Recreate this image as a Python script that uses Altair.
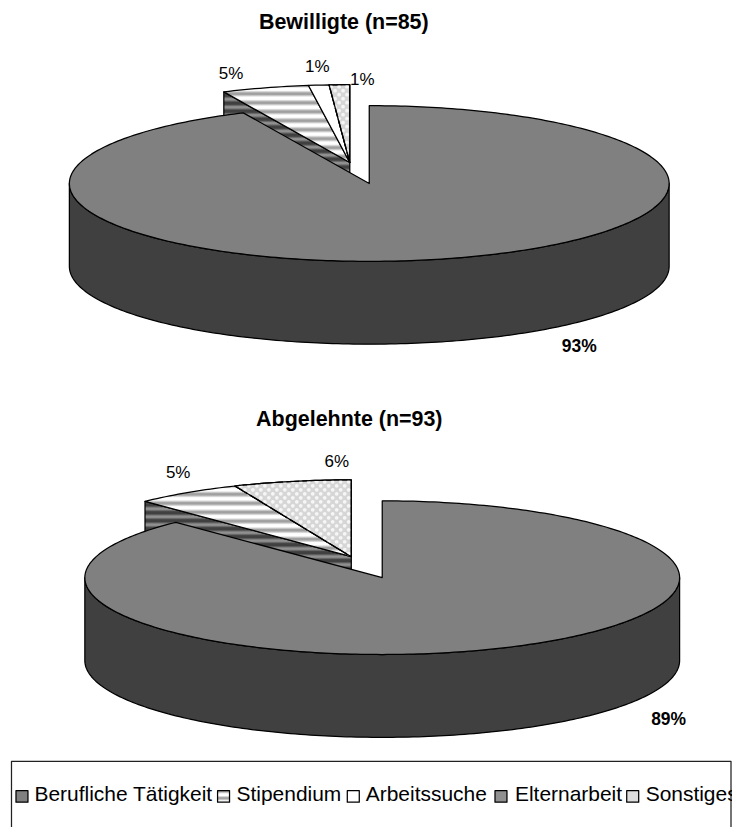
import math
import altair as alt
import pandas as pd

# ---- values (shares in percent, clockwise from 12 o'clock)
categories = ["Berufliche Tätigkeit", "Stipendium", "Arbeitssuche", "Elternarbeit", "Sonstiges"]
shares_top = [93.1, 4.7, 1.1, 0.0, 1.1]
shares_bottom = [87.8, 5.8, 0.0, 0.0, 6.4]

title_texts = ["Bewilligte (n=85)", "Abgelehnte (n=93)"]
label_top = ["93%", "5%", "1%", "1%"]
label_bottom = ["89%", "5%", "6%"]

# ---- layout
X0, X1, Y0, Y1 = 8, 733.5, 8, 827
xs = alt.Scale(domain=[X0, X1], range=[0, X1 - X0])
ys = alt.Scale(domain=[Y0, Y1], range=[0, Y1 - Y0])
GREY, DARK = "#808080", "#404040"
LW = 1.25


def soft_stripes(y0, y1, a, b, mid, period=9.0, phase=0.0):
    stops = []
    n = int((y1 - y0) / period) + 2
    span = y1 - y0
    last = -1.0
    for k in range(-1, n):
        s = y0 + phase + k * period
        for frac, col in [(0.0, a), (0.15, mid), (0.3, b), (0.55, b), (0.7, mid), (0.85, a)]:
            off = (s + frac * period - y0) / span
            if 0 <= off <= 1 and off > last:
                stops.append(alt.GradientStop(offset=off, color=col))
                last = off
    return alt.LinearGradient(gradient="linear", x1=0, y1=0, x2=0, y2=1, stops=stops)


def poly(pts, fill=None, stroke="black", width=LW):
    df = pd.DataFrame({"x": [p[0] for p in pts], "y": [p[1] for p in pts], "i": range(len(pts))})
    kw = dict(interpolate="linear-closed", stroke=stroke, strokeWidth=width, strokeJoin="round", clip=False)
    kw["fill"] = fill if fill is not None else "transparent"
    return alt.Chart(df).mark_line(**kw).encode(
        x=alt.X("x:Q", scale=xs, axis=None),
        y=alt.Y("y:Q", scale=ys, axis=None),
        order="i:Q",
    )


def bbox_stripes(pts, a, b, mid, **kw):
    ysv = [p[1] for p in pts]
    return soft_stripes(min(ysv), max(ysv), a, b, mid, **kw)


def inside(p, pts):
    x, y = p
    c = False
    for i in range(len(pts)):
        x1, y1 = pts[i]
        x2, y2 = pts[(i + 1) % len(pts)]
        if (y1 > y) != (y2 > y) and x < (x2 - x1) * (y - y1) / (y2 - y1) + x1:
            c = not c
    return c


def dots(pts, step=8.0):
    xv = [p[0] for p in pts]
    yv = [p[1] for p in pts]
    out = []
    j = 0
    y = min(yv) + 2
    while y < max(yv):
        x = min(xv) + 2 + (j % 2) * step / 2
        while x < max(xv):
            if inside((x, y), pts):
                out.append((x, y))
            x += step
        y += step / 2
        j += 1
    df = pd.DataFrame(out, columns=["x", "y"])
    return alt.Chart(df).mark_point(filled=True, shape="circle", size=14, color="#f6f6f6", opacity=1).encode(
        x=alt.X("x:Q", scale=xs, axis=None), y=alt.Y("y:Q", scale=ys, axis=None)
    )


def pie(shares, c, e, rx, ry, depth):
    cx, cy = c
    ex, ey = e
    P = lambda t, ox, oy, dy=0: (ox + rx * math.sin(math.radians(t)), oy - ry * math.cos(math.radians(t)) + dy)
    arc = lambda a, b, ox, oy, dy=0: [P(a + (b - a) * i / max(2, int(abs(b - a))), ox, oy, dy) for i in range(max(2, int(abs(b - a))) + 1)]
    layers = []
    end_main = shares[0] * 3.6
    # cut face of the pulled-out slices (Elternarbeit shading)
    wall = [P(end_main, ex, ey), (ex, ey), (ex, ey + depth), P(end_main, ex, ey, depth)]
    layers.append(poly(wall, bbox_stripes(wall, "#909090", DARK, "#686868", period=8.0)))
    # pulled-out slices
    a = end_main
    for i, s in enumerate(shares[1:], start=1):
        if s <= 0:
            continue
        b = a + s * 3.6
        pts = [(ex, ey)] + arc(a, b, ex, ey)
        name = categories[i]
        if name == "Stipendium":
            layers.append(poly(pts, bbox_stripes(pts, "#a0a0a0", "#ffffff", "#d0d0d0")))
        elif name == "Sonstiges":
            layers.append(poly(pts, "#d6d6d6"))
            layers.append(dots(pts))
            layers.append(poly(pts))
        else:
            layers.append(poly(pts, "#ffffff"))
        a = b
    # main slice: front wall, then top
    front = arc(90, 270, cx, cy) + arc(270, 90, cx, cy, depth)
    layers.append(poly(front, DARK))
    top = [(cx, cy)] + arc(0, end_main, cx, cy)
    layers.append(poly(top, GREY))
    return layers


layers = []
layers += pie(shares_top, (370, 183), (350.5, 162), 300.5, 78, 83)
layers += pie(shares_bottom, (383, 578), (352, 557), 298, 77, 83)

# ---- legend
layers.append(poly([(11.5, 762), (732.5, 762), (732.5, 900), (11.5, 900)], "white", stroke="#222222"))
swatch_x = [16, 218, 348, 496, 628]
text_x = [34.5, 237, 366.5, 516, 647]
for i, name in enumerate(categories):
    x0 = swatch_x[i]
    r = [(x0, 791.5), (x0 + 12, 791.5), (x0 + 12, 803), (x0, 803)]
    if name == "Stipendium":
        layers.append(poly(r, soft_stripes(791.5, 803, "#a0a0a0", "#ffffff", "#d0d0d0", period=7.0, phase=1.0)))
    elif name == "Arbeitssuche":
        layers.append(poly(r, "#ffffff"))
    elif name == "Sonstiges":
        layers.append(poly(r, "#dddddd"))
    elif name == "Elternarbeit":
        layers.append(poly(r, "#909090"))
    else:
        layers.append(poly(r, GREY))


def text(df, size, bold=False, align="center"):
    return alt.Chart(df).mark_text(
        font="Liberation Sans", fontSize=size, fontWeight="bold" if bold else "normal",
        align=align, baseline="alphabetic", color="black",
    ).encode(
        x=alt.X("x:Q", scale=xs, axis=None),
        y=alt.Y("y:Q", scale=ys, axis=None),
        text="t:N",
    )


layers.append(text(pd.DataFrame({"t": categories, "x": text_x, "y": [802] * 5}), 21, align="left"))
layers.append(text(pd.DataFrame({"t": title_texts, "x": [344.5, 350], "y": [28, 426]}), 21.5, bold=True))
layers.append(text(pd.DataFrame({
    "t": [label_top[1], label_top[2], label_top[3], label_bottom[1], label_bottom[2]],
    "x": [231.5, 318, 363, 178.5, 337.5],
    "y": [78, 71, 84, 478, 467],
}), 17))
layers.append(text(pd.DataFrame({
    "t": [label_top[0], label_bottom[0]], "x": [580.5, 670], "y": [352, 726],
}), 17.5, bold=True))

chart = alt.layer(*layers).properties(
    width=X1 - X0, height=Y1 - Y0, padding=0, background="white",
    autosize=alt.AutoSizeParams(type="none"),
).configure_view(stroke=None)

chart.save("out.html", embed_options={"renderer": "svg", "actions": False})
